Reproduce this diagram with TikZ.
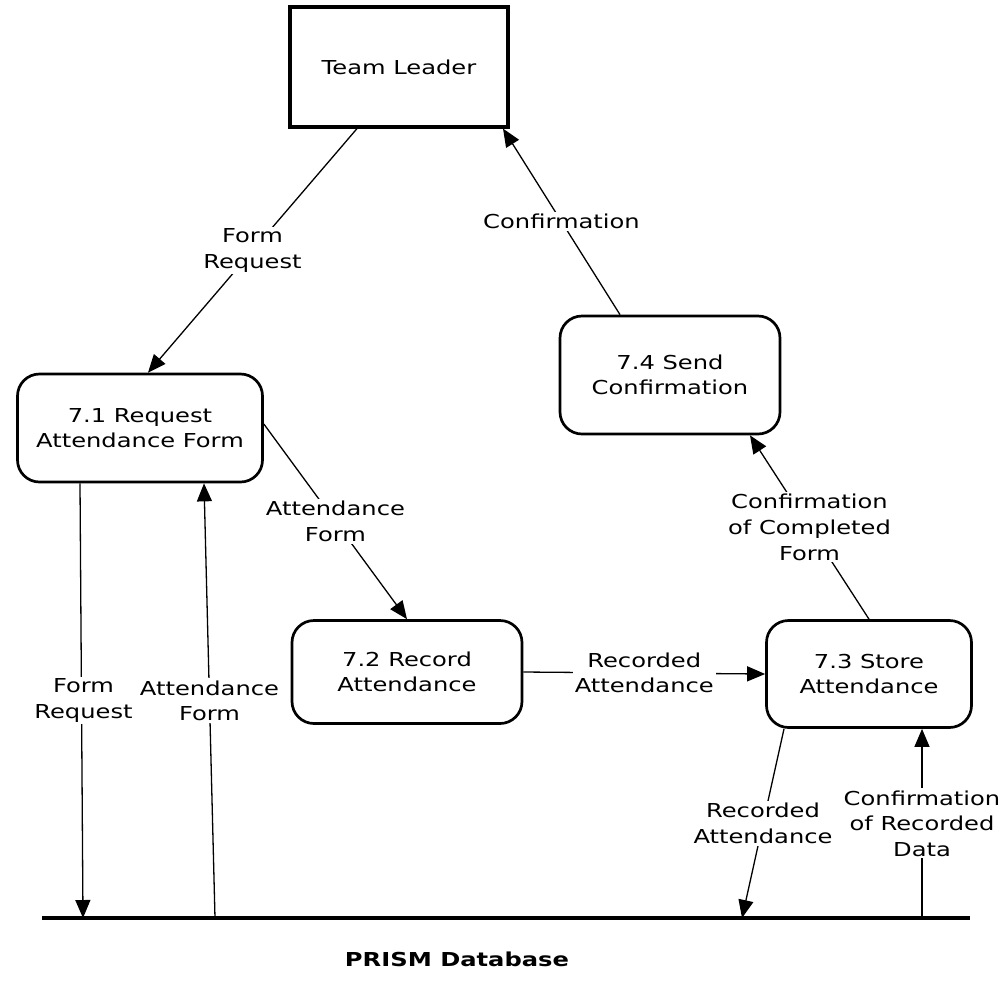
\documentclass[tikz,border=0pt]{standalone}
\usepackage{fontspec}
\setmainfont{DejaVu Sans}[FakeStretch=1.26]
\usetikzlibrary{arrows.meta,calc}

\tikzset{
	txt/.style={font=\fontsize{9.6}{12.8}\selectfont, align=center},
	entity/.style={txt, draw, line width=1.6pt, fill=white, inner sep=0pt},
	proc/.style={txt, draw, line width=1.35pt, fill=white, rounded corners=11pt, inner sep=0pt},
	flow/.style={line width=0.65pt, -{Triangle[length=9pt,width=7.5pt]}},
	lbl/.style={txt, fill=white, inner sep=1pt, midway}
}

\begin{document}
\begin{tikzpicture}[x=0.5pt,y=-0.5pt]
	\useasboundingbox (0,0) rectangle (1002,987);

	\node[entity, minimum width=109pt, minimum height=60pt] (tl) at (399,67) {Team Leader};
	\node[proc, minimum width=122.5pt, minimum height=54pt] (p1) at (140,428) {7.1 Request\\Attendance Form};
	\node[proc, minimum width=115pt, minimum height=51.5pt] (p2) at (407,672) {7.2 Record\\Attendance};
	\node[proc, minimum width=102.5pt, minimum height=53.5pt] (p3) at (869,674) {7.3 Store\\Attendance};
	\node[proc, minimum width=110pt, minimum height=59pt] (p4) at (670,375) {7.4 Send\\Confirmation};

	\coordinate (dbl) at (42,918);
	\coordinate (dbr) at (970,918);
	\coordinate (db1) at (83,918);
	\coordinate (db2) at (215,918);
	\coordinate (db3) at (742,918);
	\coordinate (db4) at (922,918);
	\draw[line width=1.6pt] (dbl) -- (dbr);
	\node[txt, font=\fontsize{9.6}{12.8}\selectfont\bfseries] (db) at (457,959) {PRISM Database};

	\draw[flow] ($(tl.south)+(-42,0)$) -- ($(p1.north)+(8,0)$) node[lbl] {Form\\Request};
	\draw[flow] ($(p4.north)+(-50,0)$) -- ($(tl.south)+(104,0)$) node[lbl] {Confirmation};
	\draw[flow] ($(p1.east)+(0,-4)$) -- (p2.north) node[lbl] {Attendance\\Form};
	\draw[flow] (p2.east) -- (p3.west) node[lbl] {Recorded\\Attendance};
	\draw[flow] (p3.north) -- ($(p4.south)+(80,0)$) node[lbl] {Confirmation\\of Completed\\Form};

	\draw[flow] ($(p1.south)+(-60,0)$) -- (db1) node[lbl, xshift=1pt] {Form\\Request};
	\draw[flow] (db2) -- ($(p1.south)+(64,0)$) node[lbl] {Attendance\\Form};
	\draw[flow] ($(p3.south)+(-85,0)$) -- (db3) node[lbl] {Recorded\\Attendance};
	\draw[flow] (db4) -- ($(p3.south)+(53,0)$) node[lbl] {Confirmation\\of Recorded\\Data};
\end{tikzpicture}
\end{document}
